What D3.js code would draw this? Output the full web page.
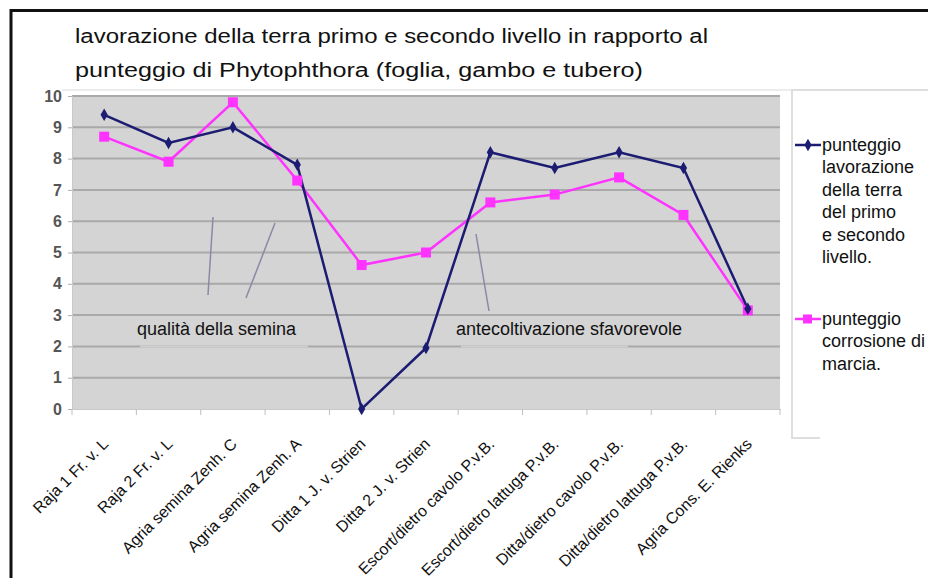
<!DOCTYPE html>
<html>
<head>
<meta charset="utf-8">
<script src="https://cdn.jsdelivr.net/npm/d3@7"></script>
<style>
  body { margin: 0; background: #fff; }
  svg { display: block; font-family: "Liberation Sans", Arial, sans-serif; }
</style>
</head>
<body>
<svg id="chart" width="928" height="578"></svg>
<script>
var categories = ["Raja 1 Fr. v. L", "Raja 2 Fr. v. L", "Agria semina Zenh. C", "Agria semina Zenh. A",
  "Ditta 1 J. v. Strien", "Ditta 2 J. v. Strien", "Escort/dietro cavolo P.v.B.", "Escort/dietro lattuga P.v.B.",
  "Ditta/dietro cavolo P.v.B.", "Ditta/dietro lattuga P.v.B.", "Agria Cons. E. Rienks"];
var lavorazione = [9.4, 8.5, 9.0, 7.8, 0, 1.95, 8.2, 7.7, 8.2, 7.7, 3.2];
var corrosione = [8.7, 7.9, 9.8, 7.3, 4.6, 5.0, 6.6, 6.85, 7.4, 6.2, 3.15];
var yTicks = [0, 1, 2, 3, 4, 5, 6, 7, 8, 9, 10];
var titleLines = ["lavorazione della terra primo e secondo livello in rapporto al",
  "punteggio di Phytophthora (foglia, gambo e tubero)"];
var legendLav = ["punteggio", "lavorazione", "della terra", "del primo", "e secondo", "livello."];
var legendCor = ["punteggio", "corrosione di", "marcia."];

var svg = d3.select("#chart");
var blue = "#1c1c72", pink = "#ff33ff";

// outer frame
svg.append("path").attr("d", "M11,580 L11,10.5 L930,10.5")
  .attr("fill", "none").attr("stroke", "#111").attr("stroke-width", 3);

// title (the original is stretched sideways, so fit each line to its width)
var titleWidths = [633, 568];
svg.selectAll(".title").data(titleLines).enter().append("text")
  .attr("x", 75).attr("y", function(d, i) { return 43 + i * 34; })
  .attr("font-size", 19.5).attr("fill", "#111")
  .attr("textLength", function(d, i) { return titleWidths[i]; })
  .attr("lengthAdjust", "spacingAndGlyphs")
  .text(function(d) { return d; });

svg.append("line").attr("x1", 62).attr("x2", 928).attr("y1", 90).attr("y2", 90)
  .attr("stroke", "#ececec").attr("stroke-width", 2);

var x = d3.scaleBand().domain(categories).range([72, 780]);
var y = d3.scaleLinear().domain([0, 10]).range([409, 96]);

// plot area
svg.append("rect").attr("x", 72).attr("y", 95).attr("width", 708).attr("height", 314).attr("fill", "#d4d4d4");

svg.selectAll(".grid").data(yTicks.slice(1)).enter().append("line")
  .attr("x1", 72).attr("x2", 780).attr("y1", function(d) { return y(d); }).attr("y2", function(d) { return y(d); })
  .attr("stroke", "#a9a9a9").attr("stroke-width", 2);

// light boxes behind the annotation labels break the gridline at 2
svg.append("line").attr("x1", 140).attr("x2", 308).attr("y1", y(2)).attr("y2", y(2))
  .attr("stroke", "#cfcfcf").attr("stroke-width", 2);
svg.append("line").attr("x1", 461).attr("x2", 628).attr("y1", y(2)).attr("y2", y(2))
  .attr("stroke", "#cfcfcf").attr("stroke-width", 2);

// y axis
var yAxis = svg.append("g").attr("transform", "translate(72,0)")
  .call(d3.axisLeft(y).tickValues(yTicks).tickSize(4).tickPadding(6));
yAxis.select(".domain").attr("stroke", "#c8c8c8");
yAxis.selectAll(".tick line").attr("stroke", "#b0b0b0");
yAxis.selectAll("text").attr("font-size", 16).attr("font-weight", "bold").attr("fill", "#555")
  .attr("font-family", "Liberation Sans, Arial, sans-serif");

// x axis
var xAxis = svg.append("g").attr("transform", "translate(0,409)")
  .call(d3.axisBottom(x).tickSize(0).tickFormat(""));
xAxis.select(".domain").attr("stroke", "#c8c8c8");
svg.selectAll(".xtick").data(categories.concat(["end"])).enter().append("line")
  .attr("x1", function(d, i) { return 72 + i * x.step(); }).attr("x2", function(d, i) { return 72 + i * x.step(); })
  .attr("y1", 409).attr("y2", 415).attr("stroke", "#c0c0c0");

svg.selectAll(".xlab").data(categories).enter().append("text")
  .attr("transform", function(d) { return "translate(" + (x(d) + x.bandwidth() / 2 + 5) + ",445) rotate(-45)"; })
  .attr("text-anchor", "end").attr("font-size", 16).attr("fill", "#111").text(function(d) { return d; });

// annotations
var notes = [
  { text: "qualità della semina", x: 137, y: 335 },
  { text: "antecoltivazione sfavorevole", x: 456, y: 335 }
];
svg.selectAll(".note").data(notes).enter().append("text")
  .attr("x", function(d) { return d.x; }).attr("y", function(d) { return d.y; })
  .attr("font-size", 18).attr("fill", "#111").text(function(d) { return d.text; });

var pointers = [[213, 217, 208, 295], [275, 223, 246, 298], [476, 234, 489, 311]];
svg.selectAll(".pointer").data(pointers).enter().append("line")
  .attr("x1", function(d) { return d[0]; }).attr("y1", function(d) { return d[1]; })
  .attr("x2", function(d) { return d[2]; }).attr("y2", function(d) { return d[3]; })
  .attr("stroke", "#8a8aa6").attr("stroke-width", 1.5);

// series
var line = d3.line()
  .x(function(d, i) { return x(categories[i]) + x.bandwidth() / 2; })
  .y(function(d) { return y(d); });

svg.append("path").datum(corrosione).attr("d", line).attr("fill", "none").attr("stroke", pink).attr("stroke-width", 2.5);
svg.append("path").datum(lavorazione).attr("d", line).attr("fill", "none").attr("stroke", blue).attr("stroke-width", 2.5);

svg.selectAll(".sq").data(corrosione).enter().append("rect")
  .attr("x", function(d, i) { return x(categories[i]) + x.bandwidth() / 2 - 5; })
  .attr("y", function(d) { return y(d) - 5; })
  .attr("width", 10).attr("height", 10).attr("fill", pink);

var diamond = d3.symbol().type(d3.symbolDiamond).size(45);
svg.selectAll(".dm").data(lavorazione).enter().append("path")
  .attr("d", diamond)
  .attr("transform", function(d, i) { return "translate(" + (x(categories[i]) + x.bandwidth() / 2) + "," + y(d) + ")"; })
  .attr("fill", blue);

// legend
svg.append("path").attr("d", "M940,90 L792,90 L792,438 L820,438")
  .attr("fill", "none").attr("stroke", "#dedede").attr("stroke-width", 2);

function legendEntry(lines, color, top, isSquare) {
  var g = svg.append("g");
  g.append("line").attr("x1", 795).attr("x2", 821).attr("y1", top).attr("y2", top)
    .attr("stroke", color).attr("stroke-width", 2.5);
  if (isSquare) {
    g.append("rect").attr("x", 803).attr("y", top - 4.5).attr("width", 9).attr("height", 9).attr("fill", color);
  } else {
    g.append("path").attr("d", diamond).attr("transform", "translate(808," + top + ")").attr("fill", color);
  }
  g.selectAll("text").data(lines).enter().append("text")
    .attr("x", 822).attr("y", function(d, i) { return top + 6 + i * 22.4; })
    .attr("font-size", 18).attr("fill", "#111").text(function(d) { return d; });
}
legendEntry(legendLav, blue, 145, false);
legendEntry(legendCor, pink, 319, true);
</script>
</body>
</html>
